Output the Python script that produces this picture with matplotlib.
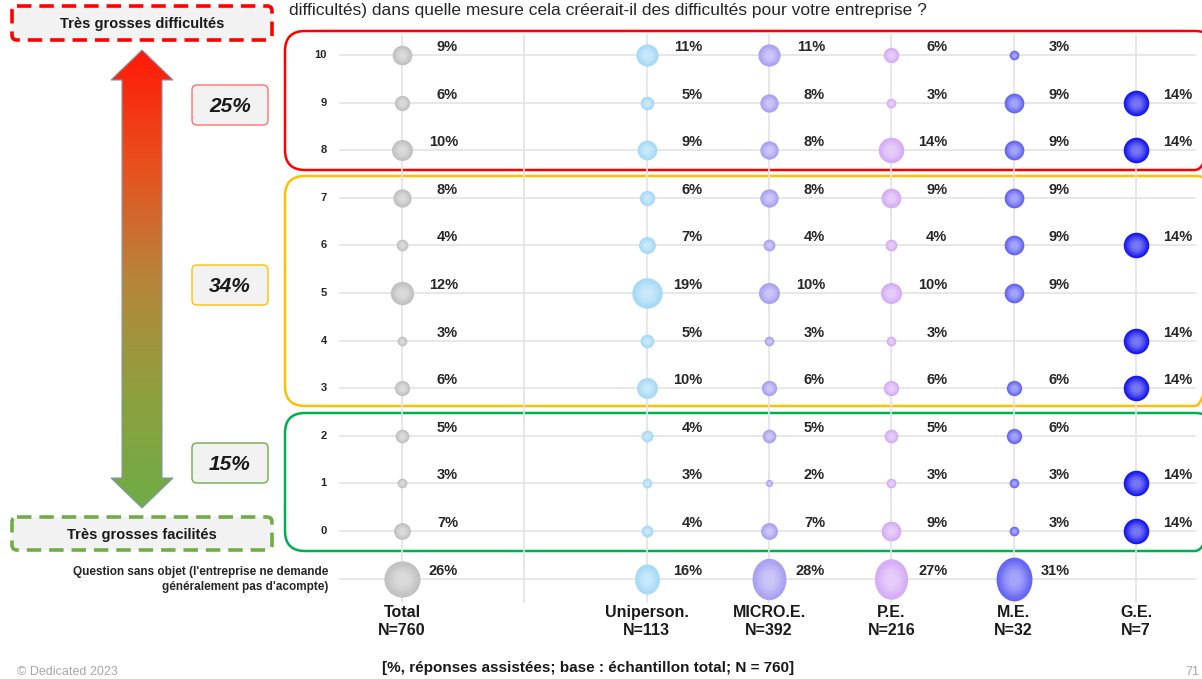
import numpy as np
import matplotlib
matplotlib.use('Agg')
import matplotlib.pyplot as plt
from matplotlib.patches import FancyBboxPatch, Polygon
from matplotlib.colors import LinearSegmentedColormap, to_rgb

plt.rcParams['font.family'] = ['Liberation Sans', 'DejaVu Sans']

# ---- data ----
COLUMNS = ['Total', 'Uniperson.', 'MICRO.E.', 'P.E.', 'M.E.', 'G.E.']
COL_N = [760, 113, 392, 216, 32, 7]
COL_POS = [0, 2, 3, 4, 5, 6]          # slot 1 is an empty spacer column
ROWS = ['10', '9', '8', '7', '6', '5', '4', '3', '2', '1', '0']
ROW_POS = [10, 9, 8, 7, 6, 5, 4, 3, 2, 1, 0]
NA_POS = -1                             # "Question sans objet" row
# percentages per row (10 -> 0), then "sans objet"; None = no bubble
total = [9, 6, 10, 8, 4, 12, 3, 6, 5, 3, 7, 26]
uniperson = [11, 5, 9, 6, 7, 19, 5, 10, 4, 3, 4, 16]
micro = [11, 8, 8, 8, 4, 10, 3, 6, 5, 2, 7, 28]
pe = [6, 3, 14, 9, 4, 10, 3, 6, 5, 3, 9, 27]
me = [3, 9, 9, 9, 9, 9, None, 6, 6, 3, 3, 31]
ge = [None, 14, 14, None, 14, None, 14, 14, None, 14, 14, None]
SERIES = [total, uniperson, micro, pe, me, ge]
COLORS = ['#c2c2c2', '#a6daf7', '#aaa1f3', '#d6adf7', '#6666f6', '#1a1aef']
GROUP_PCT = ['25%', '34%', '15%']

W, H = 1202, 679
fig = plt.figure(figsize=(W / 100, H / 100), dpi=100)

# decoration layer in pixel coordinates
deco = fig.add_axes([0, 0, 1, 1])
deco.set_xlim(0, W); deco.set_ylim(H, 0); deco.axis('off')

# main bubble axes
ax = fig.add_axes([0, 0, 1, 1])
ax.patch.set_alpha(0)
ax.set_xlim(-402 / 122.33, (W - 402) / 122.33)
ax.set_ylim(-(H - 531) / 47.6, 531 / 47.6)
ax.axis('off')

# gridlines
grid_c = '#e3e3e3'
for yv in ROW_POS + [NA_POS]:
    ax.plot([-0.51, 6.48], [yv, yv], color=grid_c, lw=1.2, zorder=1)
for xv in [0, 1, 2, 3, 4, 5, 6]:
    ax.plot([xv, xv], [10.42, -1.5], color=grid_c, lw=1.2, zorder=1)

# group frames
for (y0, y1, c) in [(31, 170, '#ff0000'), (176, 406, '#ffc000'), (413, 551, '#00b050')]:
    deco.add_patch(FancyBboxPatch((285, y0), 930, y1 - y0,
                                  boxstyle='round,pad=0,rounding_size=20',
                                  fc='none', ec=c, lw=1.8, zorder=2))


def lighten(c, f):
    r, g, b = to_rgb(c)
    return (r + (1 - r) * f, g + (1 - g) * f, b + (1 - b) * f)


def size_of(v):
    d = (7.9 * np.sqrt(v) - 4) * 0.72
    return d * d


ellipse = matplotlib.path.Path.unit_circle().transformed(
    matplotlib.transforms.Affine2D().scale(0.82, 1.0))

ys = ROW_POS + [NA_POS]
for ci, (vals, col, xp) in enumerate(zip(SERIES, COLORS, COL_POS)):
    for yv, v in zip(ys, vals):
        if v is None:
            continue
        stretched = yv == NA_POS and ci > 0
        mk = ellipse if stretched else 'o'
        s = size_of(v) * (1.2 if stretched else 1.0)
        ax.scatter([xp], [yv], s=s, marker=mk, color=col, lw=0, zorder=3)
        # soft radial highlight
        for k, f in enumerate(np.linspace(0.8, 0.1, 8)):
            ax.scatter([xp], [yv], s=s * f, marker=mk,
                       color=lighten(col, 0.06 * (k + 1)), alpha=0.45,
                       lw=0, zorder=4 + k)
        ax.text(xp + 0.458, yv + 0.17, f'{v}%', ha='right', va='center',
                fontsize=10.5, fontweight='bold', color='#262626', zorder=20)

# row labels
for lab, yv in zip(ROWS, ROW_POS):
    ax.text(-0.615, yv, lab, ha='right', va='center', fontsize=8,
            fontweight='bold', color='#262626')
ax.text(-0.605, NA_POS - 0.02, "Question sans objet (l'entreprise ne demande\n"
        "généralement pas d'acompte)", ha='right', va='center',
        multialignment='right', fontsize=8.5, fontweight='bold',
        color='#262626', linespacing=1.35)

# column labels
for name, n, xp in zip(COLUMNS, COL_N, COL_POS):
    ax.text(xp, -1.56, f'{name}\nN={n}', ha='center', va='top',
            multialignment='center', fontsize=11.5, fontweight='bold',
            color='#1a1a1a', linespacing=1.25)

# left scale: arrow with gradient
cx, top, bot = 142, 50, 508
hw, sw, hl = 31, 20, 30
pts = [(cx, top), (cx + hw, top + hl), (cx + sw, top + hl), (cx + sw, bot - hl),
       (cx + hw, bot - hl), (cx, bot), (cx - hw, bot - hl), (cx - sw, bot - hl),
       (cx - sw, top + hl), (cx - hw, top + hl)]
arrow = Polygon(pts, closed=True, fc='none', ec='#8497b0', lw=0.8, zorder=3)
deco.add_patch(arrow)
cmap = LinearSegmentedColormap.from_list('rg', ['#ff1a08', '#e8501e', '#b7853b', '#8ea03f', '#6fac46'])
grad = np.linspace(0, 1, 256).reshape(-1, 1)
im = deco.imshow(grad, cmap=cmap, extent=(cx - hw, cx + hw, bot, top),
                 aspect='auto', zorder=2)
im.set_clip_path(arrow)

# end labels (dashed boxes)
for (y0, y1, c, txt) in [(6, 40, '#ff0000', 'Très grosses difficultés'),
                         (517, 550, '#70ad47', 'Très grosses facilités')]:
    deco.add_patch(FancyBboxPatch((12, y0), 260, y1 - y0,
                                  boxstyle='round,pad=0,rounding_size=5',
                                  fc='#f2f2f2', ec=c, lw=2.6,
                                  linestyle=(0, (4, 2.2)), zorder=3))
    deco.text(142, (y0 + y1) / 2 + 1, txt, ha='center', va='center',
              fontsize=10.5, fontweight='bold', color='#1a1a1a', zorder=4)

# group percentages
for (yc, c, txt) in zip([105, 285, 463], ['#ff7070', '#ffc000', '#70ad47'], GROUP_PCT):
    deco.add_patch(FancyBboxPatch((192, yc - 20), 76, 40,
                                  boxstyle='round,pad=0,rounding_size=5',
                                  fc='#f2f2f2', ec=c, lw=1.0, zorder=3))
    deco.text(230, yc + 1, txt, ha='center', va='center', fontsize=15,
              fontweight='bold', fontstyle='italic', color='#1a1a1a', zorder=4)

# texts
deco.text(289, 11, 'difficultés) dans quelle mesure cela créerait-il des difficultés pour votre entreprise ?',
          ha='left', va='center', fontsize=12.5, color='#262626')
deco.text(382, 668, '[%, réponses assistées; base : échantillon total; N = 760]',
          ha='left', va='center', fontsize=11, fontweight='bold', color='#1a1a1a')
deco.text(17, 672, '© Dedicated 2023', ha='left', va='center', fontsize=9, color='#a6a6a6')
deco.text(1185, 672, '71', ha='left', va='center', fontsize=9, color='#a6a6a6')

fig.savefig('out.png', dpi=100)
